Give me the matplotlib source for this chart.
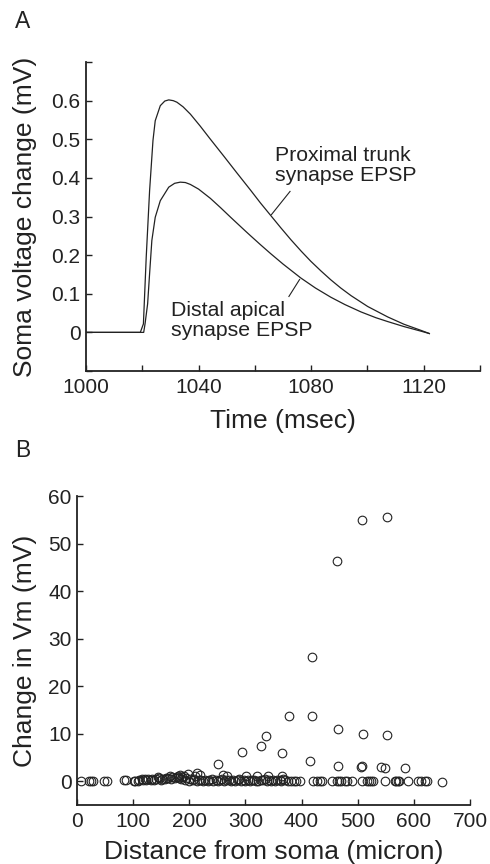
import matplotlib
matplotlib.use("Agg")
import matplotlib.pyplot as plt
import numpy as np

plt.rcParams['font.family'] = ['Liberation Sans', 'DejaVu Sans']

# panel A: soma EPSP traces (time in msec, voltage change in mV)
prox_t = [1000, 1019.3, 1020.4, 1021.4, 1022.6, 1023.8, 1024.6, 1026.4, 1028.0, 1029.4,
          1031.0, 1032.3, 1034.5, 1037.1, 1040.6, 1044.0, 1049.0, 1053.5, 1058.5, 1062.0,
          1065.6, 1069.2, 1072.8, 1076.5, 1079.9, 1083.5, 1087.0, 1090.5, 1094.2, 1100.1,
          1107.2, 1113.0, 1119.1, 1122.0]
prox_v = [0, 0, 0.022, 0.195, 0.367, 0.497, 0.548, 0.587, 0.599, 0.602,
          0.600, 0.596, 0.584, 0.565, 0.534, 0.502, 0.456, 0.414, 0.368, 0.335,
          0.303, 0.271, 0.240, 0.210, 0.184, 0.159, 0.136, 0.115, 0.095, 0.067,
          0.040, 0.021, 0.005, -0.003]

dist_t = [1000, 1020.5, 1021.0, 1021.9, 1022.6, 1023.4, 1024.6, 1026.4, 1029.4, 1031.5,
          1033.5, 1035.3, 1037.1, 1040.0, 1044.2, 1047.8, 1051.4, 1056.7, 1058.5, 1062.0,
          1065.6, 1070.0, 1076.3, 1081.5, 1087.0, 1092.0, 1097.7, 1103.0, 1107.2, 1113.0,
          1119.1, 1122.0]
dist_v = [0, 0, 0.023, 0.074, 0.152, 0.238, 0.298, 0.341, 0.376, 0.386,
          0.389, 0.388, 0.383, 0.371, 0.347, 0.323, 0.298, 0.262, 0.250, 0.227,
          0.204, 0.177, 0.141, 0.115, 0.091, 0.072, 0.053, 0.038, 0.028, 0.015,
          0.003, -0.003]

# panel B: change in Vm vs distance from soma
high_dist = [551.7, 507.7, 462.6, 418.6, 377.0, 418.6, 464.4, 510.0, 552.9, 336.0,
             328.4, 294.5, 365.8, 251.8, 415.7, 464.4, 506.5, 507.5, 541.6, 548.0, 584.3]
high_dv = [55.6, 54.9, 46.4, 26.1, 13.7, 13.7, 11.0, 10.0, 9.8, 9.5,
           7.4, 6.2, 6.0, 3.7, 4.3, 3.1, 3.0, 3.1, 2.9, 2.7, 2.7]

low_dist = [214, 197, 183.5, 219, 260.7, 268, 301, 320, 339.7, 366,
            166, 144, 180, 190, 210]
low_dv = [1.8, 1.5, 1.3, 1.3, 1.3, 1.2, 1.2, 1.0, 1.2, 1.0,
          1.0, 0.8, 1.0, 1.1, 1.0]

row_dist = [7, 22, 25, 29, 49, 54, 84, 88, 101, 104, 108, 111, 115, 118, 121, 123, 127,
            131, 134, 138, 141, 146, 149, 152, 156, 159, 163, 167, 170, 174, 178, 181,
            185, 187, 192, 195, 199, 202, 206, 209, 213, 217, 221, 225, 228, 233, 236,
            240, 243, 247, 251, 255, 259, 262, 266, 271, 274, 278, 282, 286, 289, 293,
            297, 300, 304, 309, 312, 316, 319, 323, 327, 331, 335, 338, 342, 346, 350,
            353, 357, 361, 364, 367, 371, 375, 382, 386, 391, 398, 421, 427, 433, 436,
            454, 463, 467, 471, 477, 481, 489, 507, 516, 520, 524, 528, 549, 567, 569,
            571, 574, 590, 608, 612, 620, 623, 651]
row_dv = [0, 0, 0, 0, 0, 0, 0.2, 0.3, 0, 0.1, 0, 0.3, 0.4, 0.2, 0.5, 0.3, 0.4,
          0.2, 0.5, 0.3, 0.4, 0.6, 0.3, 0.5, 0.4, 0.6, 0.7, 0.5, 0.8, 0.6, 0.9, 0.7,
          0.5, 0.9, 0.3, 0.6, 0.1, 0.4, 0.2, 0.5, 0.1, 0.3, 0.2, 0, 0.3, 0.1, 0.2,
          0.4, 0.1, 0.3, 0, 0.2, 0.4, 0.1, 0.3, 0.2, 0, 0.3, 0.1, 0.2, 0.4, 0.1,
          0.3, 0, 0.2, 0.1, 0.3, 0.2, 0, 0.1, 0.3, 0.2, 0.4, 0.1, 0.2, 0, 0.3,
          0.1, 0.2, 0.3, 0.1, 0.4, 0.2, 0, 0, 0.1, 0, 0, 0, 0, 0, 0,
          0.1, 0, 0, 0, 0, 0.1, 0, 0, 0, 0, 0, 0, 0, 0, 0.1,
          0, 0, 0, 0, 0, 0, 0, -0.1]

ink = '#222222'
fig = plt.figure(figsize=(4.9, 8.64), dpi=100)
ax_a = fig.add_axes([0.1755, 0.5706, 0.8041, 0.3576])
ax_b = fig.add_axes([0.1571, 0.0683, 0.8020, 0.3576])

for ax in (ax_a, ax_b):
    for side in ('top', 'right'):
        ax.spines[side].set_visible(False)
    for side in ('left', 'bottom'):
        ax.spines[side].set_linewidth(1.3)
        ax.spines[side].set_color(ink)
    ax.tick_params(direction='in', length=4, width=1, colors=ink,
                   labelsize=15, labelcolor=ink)

# --- A ---
ax_a.plot(prox_t, prox_v, color=ink, lw=0.9)
ax_a.plot(dist_t, dist_v, color=ink, lw=0.9)
ax_a.set_xlim(1000, 1140)
ax_a.set_ylim(-0.1, 0.7)
ax_a.set_xticks(np.arange(1000, 1141, 20))
ax_a.set_xticklabels(['1000', '', '1040', '', '1080', '', '1120', ''])
ax_a.set_yticks(np.arange(-0.1, 0.71, 0.1))
ax_a.set_yticklabels(['', '0', '0.1', '0.2', '0.3', '0.4', '0.5', '0.6', ''])
ax_a.tick_params(axis='x', pad=5)
ax_a.tick_params(axis='y', pad=4)
ax_a.set_xlabel('Time (msec)', fontsize=19, color=ink, va='center')
ax_a.xaxis.set_label_coords(0.5, -0.162)
ax_a.set_ylabel('Soma voltage change (mV)', fontsize=19, color=ink, va='center')
ax_a.yaxis.set_label_coords(-0.155, 0.5)

ax_a.text(1067.1, 0.432, 'Proximal trunk\nsynapse EPSP', fontsize=15.3, color=ink,
          ha='left', va='center', linespacing=1.12)
ax_a.plot([1072.5, 1065.9], [0.365, 0.305], color=ink, lw=0.8)
ax_a.text(1030.3, 0.031, 'Distal apical\nsynapse EPSP', fontsize=15.3, color=ink,
          ha='left', va='center', linespacing=1.12)
ax_a.plot([1072.1, 1075.9], [0.093, 0.137], color=ink, lw=0.8)

# --- B ---
mk = dict(linestyle='none', marker='o', markersize=6.2, markerfacecolor='none',
          markeredgecolor=ink, markeredgewidth=0.8)
ax_b.plot(row_dist, row_dv, **mk)
ax_b.plot(low_dist, low_dv, **mk)
ax_b.plot(high_dist, high_dv, **mk)
ax_b.set_xlim(0, 700)
ax_b.set_ylim(-5, 60)
ax_b.set_xticks(np.arange(0, 701, 100))
ax_b.set_yticks(np.arange(0, 61, 10))
ax_b.tick_params(axis='x', pad=5)
ax_b.tick_params(axis='y', pad=4)
ax_b.set_xlabel('Distance from soma (micron)', fontsize=19, color=ink, va='center')
ax_b.xaxis.set_label_coords(0.5, -0.152)
ax_b.set_ylabel('Change in Vm (mV)', fontsize=19, color=ink, va='center')
ax_b.yaxis.set_label_coords(-0.132, 0.5)

fig.text(23 / 490, 1 - 21 / 864, 'A', fontsize=16.5, color=ink, ha='center', va='center')
fig.text(23 / 490, 1 - 450 / 864, 'B', fontsize=16.5, color=ink, ha='center', va='center')

fig.savefig('out.png', dpi=100)
